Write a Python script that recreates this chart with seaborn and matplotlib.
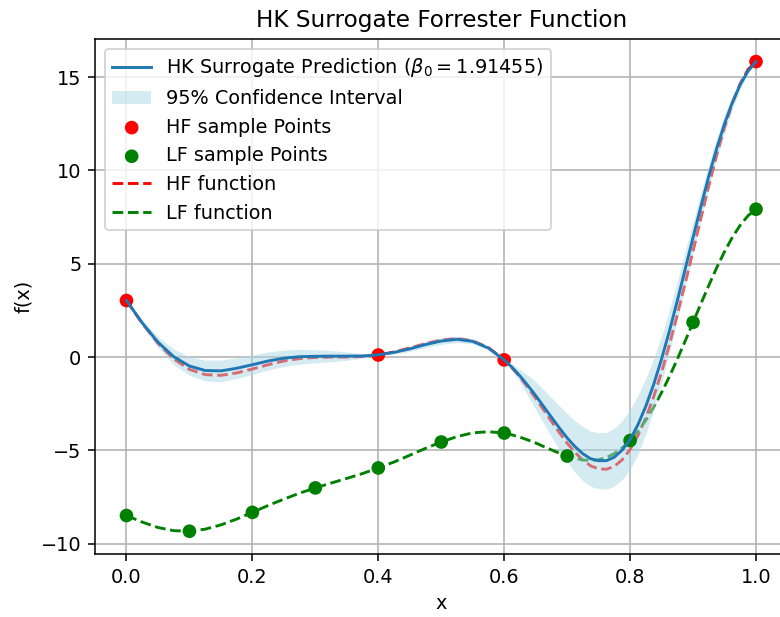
import matplotlib
matplotlib.use("Agg")
import matplotlib.pyplot as plt
import seaborn as sns
import numpy as np

# Evaluation grid
x_grid = [0.0, 0.025, 0.05, 0.075, 0.1, 0.125, 0.15, 0.175, 0.2, 0.225, 0.25, 0.275,
          0.3, 0.325, 0.35, 0.375, 0.4, 0.425, 0.45, 0.475, 0.5, 0.525, 0.55, 0.575,
          0.6, 0.6125, 0.625, 0.6375, 0.65, 0.6625, 0.675, 0.6875, 0.7, 0.7125, 0.725,
          0.7375, 0.75, 0.7625, 0.775, 0.7875, 0.8, 0.8125, 0.825, 0.8375, 0.85, 0.8625,
          0.875, 0.8875, 0.9, 0.9125, 0.925, 0.9375, 0.95, 0.9625, 0.975, 0.9875, 1.0]

# High-fidelity Forrester function
hf_curve = [3.03, 1.81, 0.74, -0.10, -0.66, -0.94, -0.98, -0.85, -0.64, -0.41, -0.21, -0.08,
            -0.02, 0.00, 0.00, 0.03, 0.11, 0.27, 0.48, 0.72, 0.91, 0.99, 0.87, 0.50,
            -0.15, -0.58, -1.07, -1.62, -2.21, -2.82, -3.44, -4.04, -4.61, -5.11, -5.52,
            -5.83, -5.99, -6.01, -5.85, -5.50, -4.95, -4.20, -3.25, -2.12, -0.80, 0.67,
            2.27, 3.97, 5.71, 7.47, 9.19, 10.82, 12.30, 13.60, 14.65, 15.41, 15.83]

# Low-fidelity Forrester function
lf_curve = [-8.49, -8.84, -9.13, -9.30, -9.33, -9.22, -8.99, -8.68, -8.32, -7.95, -7.61, -7.29,
            -7.01, -6.75, -6.50, -6.24, -5.94, -5.62, -5.26, -4.89, -4.55, -4.26, -4.06, -4.00,
            -4.07, -4.17, -4.29, -4.44, -4.60, -4.79, -4.97, -5.15, -5.30, -5.43, -5.51,
            -5.54, -5.50, -5.38, -5.17, -4.87, -4.47, -3.98, -3.38, -2.68, -1.90, -1.04,
            -0.11, 0.86, 1.86, 2.86, 3.84, 4.78, 5.65, 6.42, 7.07, 7.58, 7.92]

# Hierarchical kriging prediction and 95% half-width
hk_pred = [3.03, 1.83, 0.80, 0.02, -0.48, -0.72, -0.74, -0.60, -0.41, -0.21, -0.06, 0.02,
           0.04, 0.05, 0.05, 0.06, 0.12, 0.25, 0.44, 0.67, 0.86, 0.95, 0.84, 0.48,
           -0.15, -0.55, -1.01, -1.52, -2.06, -2.64, -3.22, -3.79, -4.33, -4.80, -5.18,
           -5.45, -5.55, -5.55, -5.36, -4.98, -4.42, -3.62, -2.63, -1.46, -0.10, 1.40,
           3.02, 4.71, 6.41, 8.07, 9.69, 11.17, 12.50, 13.65, 14.60, 15.33, 15.83]
hk_halfwidth = [0.00, 0.15, 0.30, 0.42, 0.50, 0.56, 0.58, 0.56, 0.52, 0.48, 0.44, 0.40,
                0.35, 0.30, 0.22, 0.12, 0.00, 0.08, 0.14, 0.17, 0.18, 0.17, 0.14, 0.08,
                0.00, 0.17, 0.35, 0.55, 0.75, 0.90, 1.05, 1.18, 1.30, 1.38, 1.45,
                1.48, 1.50, 1.52, 1.55, 1.58, 1.60, 1.58, 1.50, 1.38, 1.25, 1.15,
                1.05, 0.95, 0.85, 0.75, 0.65, 0.55, 0.45, 0.35, 0.25, 0.12, 0.00]

# Sample points
hf_x = [0.0, 0.4, 0.6, 1.0]
hf_y = [3.03, 0.11, -0.15, 15.83]
lf_x = [0.0, 0.1, 0.2, 0.3, 0.4, 0.5, 0.6, 0.7, 0.8, 0.9, 1.0]
lf_y = [-8.49, -9.33, -8.32, -7.01, -5.94, -4.55, -4.07, -5.30, -4.47, 1.86, 7.92]

beta0 = 1.91455

DPI = 139
fig = plt.figure(figsize=(780 / DPI, 617 / DPI), dpi=DPI)
ax = fig.add_axes([0.1218, 0.1021, 0.8878, 0.8347])
ax.set_axisbelow(True)
ax.grid(True)

pred = np.array(hk_pred)
hw = np.array(hk_halfwidth)

sns.lineplot(x=x_grid, y=hk_pred, ax=ax, color="#1f77b4", linewidth=1.5, zorder=2,
             label=rf"HK Surrogate Prediction ($\beta_0 = {beta0:.5f}$)")
ax.fill_between(x_grid, pred - hw, pred + hw, color="lightblue", alpha=0.5,
                linewidth=0, zorder=1, label="95% Confidence Interval")
sns.scatterplot(x=hf_x, y=hf_y, ax=ax, color="red", s=50, edgecolor="none",
                zorder=1.5, label="HF sample Points")
sns.scatterplot(x=lf_x, y=lf_y, ax=ax, color="green", s=50, edgecolor="none",
                zorder=1.5, label="LF sample Points")
sns.lineplot(x=x_grid, y=hf_curve, ax=ax, color="red", linestyle="--", linewidth=1.5,
             zorder=0.8, label="HF function")
sns.lineplot(x=x_grid, y=lf_curve, ax=ax, color="green", linestyle="--", linewidth=1.5,
             zorder=0.8, label="LF function")

order = [rf"HK Surrogate Prediction ($\beta_0 = {beta0:.5f}$)", "95% Confidence Interval",
         "HF sample Points", "LF sample Points", "HF function", "LF function"]
handles, labels = ax.get_legend_handles_labels()
lookup = dict(zip(labels, handles))
ax.legend([lookup[l] for l in order], order, loc="upper left")

ax.set_xlim(-0.05, 1.05)
ax.set_ylim(-10.55, 17.04)
ax.set_xticks([0.0, 0.2, 0.4, 0.6, 0.8, 1.0])
ax.set_yticks([-10, -5, 0, 5, 10, 15])
ax.set_xlabel("x")
ax.set_ylabel("f(x)")
ax.set_title("HK Surrogate Forrester Function")

fig.savefig("out.png", dpi=DPI)
